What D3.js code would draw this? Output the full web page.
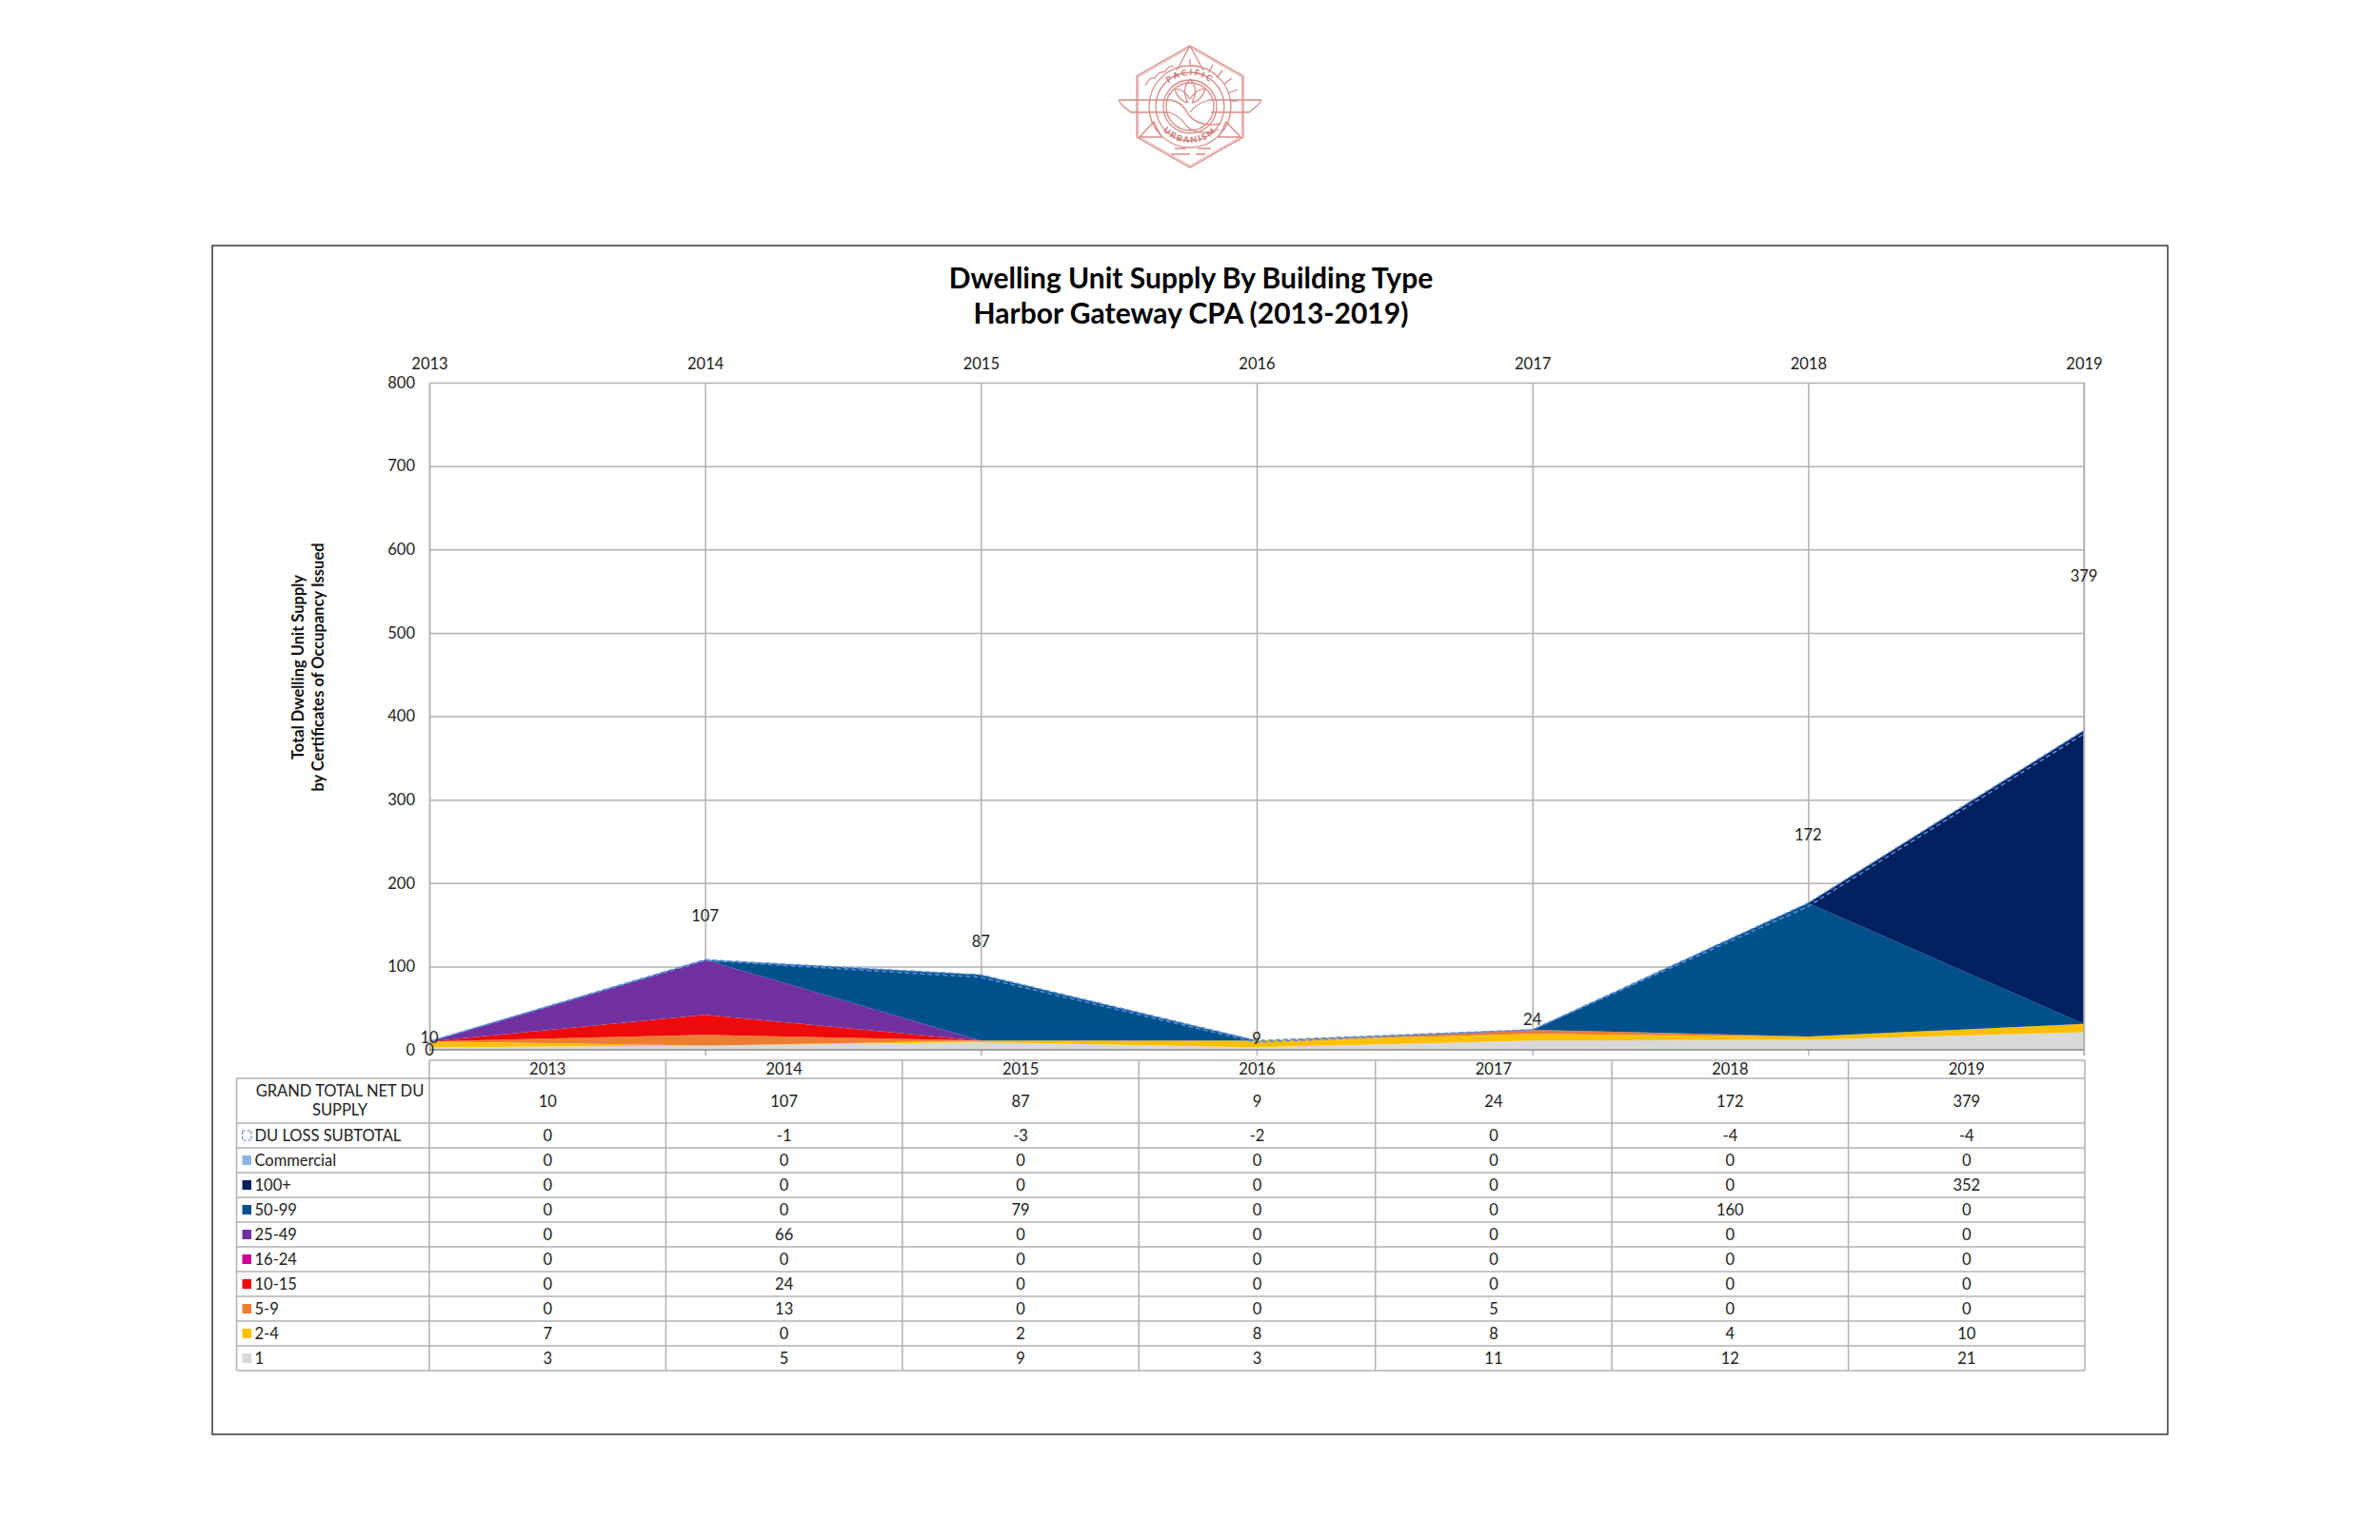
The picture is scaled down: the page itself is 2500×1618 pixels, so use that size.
<!DOCTYPE html>
<html><head><meta charset="utf-8">
<script src="https://cdn.jsdelivr.net/npm/d3@7/dist/d3.min.js"></script>
<style>html,body{margin:0;padding:0;background:#fff}svg{display:block}text{font-family:Lato,"Open Sans",sans-serif;fill:#222}</style>
</head><body><svg id="c" width="2500" height="1618"></svg>
<script>
const years=[2013,2014,2015,2016,2017,2018,2019];
const grandTotal=[10,107,87,9,24,172,379];
const duLoss=[0,-1,-3,-2,0,-4,-4];
const commercial=[0,0,0,0,0,0,0];
const u100=[0,0,0,0,0,0,352];
const u50=[0,0,79,0,0,160,0];
const u25=[0,66,0,0,0,0,0];
const u16=[0,0,0,0,0,0,0];
const u10=[0,24,0,0,0,0,0];
const u5=[0,13,0,0,5,0,0];
const u2=[7,0,2,8,8,4,10];
const u1=[3,5,9,3,11,12,21];
const yTicks=[0,100,200,300,400,500,600,700,800];
const titleLines=["Dwelling Unit Supply By Building Type","Harbor Gateway CPA (2013-2019)"];
const yTitleLines=["Total Dwelling Unit Supply","by Certificates of Occupancy Issued"];
const rowNames=["DU LOSS SUBTOTAL","Commercial","100+","50-99","25-49","16-24","10-15","5-9","2-4","1"];
const rowValues=[duLoss,commercial,u100,u50,u25,u16,u10,u5,u2,u1];
const rowColors=["none","#8db4e2","#002060","#00508c","#7030a0","#cc0099","#ee0a0a","#ed7d31","#ffc000","#d9d9d9"];
const stackOrder=["1","2-4","5-9","10-15","16-24","25-49","50-99","100+","Commercial","DU LOSS SUBTOTAL"];

const svg=d3.select("#c");
const grid="#b2b2b2";
// outer frame
svg.append("rect").attr("x",223).attr("y",258).attr("width",2054).attr("height",1249).attr("fill","#fff").attr("stroke","#444").attr("stroke-width",1.6);

const L=451,R=2189,T=402,B=1103;
const x=d3.scalePoint().domain(years).range([L,R]);
const y=d3.scaleLinear().domain([0,800]).range([B,T]);

titleLines.forEach((t,i)=>svg.append("text").attr("x",1251).attr("y",303+i*37).attr("text-anchor","middle").attr("font-size",30).attr("font-weight",700).style("fill","#000").text(t));
yTitleLines.forEach((t,i)=>svg.append("text").attr("transform",`translate(${319+i*21},701) rotate(-90)`).attr("text-anchor","middle").attr("font-size",16.5).attr("font-weight",700).style("fill","#111").text(t));

// gridlines
svg.append("g").attr("transform",`translate(${L},0)`).call(d3.axisLeft(y).tickValues(yTicks.slice(1)).tickSize(-(R-L)).tickFormat("")).call(g=>{g.selectAll("line").attr("stroke",grid).attr("stroke-width",1.5);g.select(".domain").remove();});
svg.append("g").attr("transform",`translate(0,${B+6})`).call(d3.axisTop(x).tickSize(B+6-T).tickFormat("")).call(g=>{g.selectAll("line").attr("stroke",grid).attr("stroke-width",1.5);g.select(".domain").remove();});

// stacked areas
const rows=years.map((yr,i)=>{const o={year:yr};rowNames.forEach((n,k)=>o[n]=rowValues[k][i]);return o;});
const stacked=d3.stack().keys(stackOrder).offset(d3.stackOffsetNone)(rows);
const area=d3.area().x(d=>x(d.data.year)).y0(d=>y(d[0])).y1(d=>y(d[1]));
svg.append("g").selectAll("path").data(stacked.filter(s=>s.key!=="DU LOSS SUBTOTAL")).join("path")
 .attr("d",area).attr("fill",s=>rowColors[rowNames.indexOf(s.key)]);
svg.append("path").datum(stacked.find(s=>s.key==="DU LOSS SUBTOTAL")).attr("d",area).attr("fill","none").attr("stroke","#5c8fd8").attr("stroke-width",1.5).attr("stroke-dasharray","5 3");

// axes
const yAxis=svg.append("g").attr("transform",`translate(${L},0)`).call(d3.axisLeft(y).tickValues(yTicks).tickSize(0).tickPadding(15));
yAxis.select(".domain").attr("stroke",grid).attr("stroke-width",1.5);
yAxis.selectAll("text").attr("font-size",16.5).attr("font-family","Lato");
const xAxis=svg.append("g").attr("transform",`translate(0,${T})`).call(d3.axisTop(x).tickSize(0).tickPadding(14));
xAxis.select(".domain").remove();
xAxis.selectAll("text").attr("font-size",16.5).attr("font-family","Lato");
svg.append("line").attr("x1",L).attr("x2",R).attr("y1",B).attr("y2",B).attr("stroke","#888").attr("stroke-width",1.6);
svg.append("line").attr("x1",R).attr("x2",R).attr("y1",T).attr("y2",B+6).attr("stroke",grid).attr("stroke-width",1.5);

// data labels: drawn at the chart's label series height
const labelLift=1.5;
svg.append("g").selectAll("text").data(years).join("text").attr("x",d=>x(d)).attr("y",(d,i)=>y(grandTotal[i]*labelLift)+6)
 .attr("text-anchor","middle").attr("font-size",16.5).text((d,i)=>grandTotal[i]);
svg.append("text").attr("x",L).attr("y",B+6).attr("text-anchor","middle").attr("font-size",16.5).text("0");

// data table
const tL=248.5,tR=2190,tHeadTop=1114,tHeadBot=1133,tGrand=1180,rowH=26;
const cols=d3.scaleBand().domain(years).range([L,tR]);
const lines=svg.append("g").attr("stroke",grid).attr("stroke-width",1.5);
const rowY=d3.range(rowNames.length+1).map(i=>tGrand+i*rowH);
[tHeadBot,...rowY].forEach(v=>lines.append("line").attr("x1",tL).attr("x2",tR).attr("y1",v).attr("y2",v));
lines.append("line").attr("x1",L).attr("x2",tR).attr("y1",tHeadTop).attr("y2",tHeadTop);
lines.append("line").attr("x1",tL).attr("x2",tL).attr("y1",tHeadBot).attr("y2",rowY[rowY.length-1]);
[...years.map(d=>cols(d)),tR].forEach(v=>lines.append("line").attr("x1",v).attr("x2",v).attr("y1",tHeadTop).attr("y2",rowY[rowY.length-1]));
const cell=(xx,yy,t,a)=>svg.append("text").attr("x",xx).attr("y",yy).attr("text-anchor",a||"middle").attr("dy","0.35em").attr("font-size",16.5).text(t);
years.forEach((yr,i)=>{
  const cx=cols(yr)+cols.bandwidth()/2;
  cell(cx,1123.5,yr);
  cell(cx,1157,grandTotal[i]);
  rowValues.forEach((vals,k)=>cell(cx,tGrand+k*rowH+rowH/2,vals[i]));
});
cell(357,1146,"GRAND TOTAL NET DU");cell(357,1166,"SUPPLY");
rowNames.forEach((n,k)=>{
  const cy=tGrand+k*rowH+rowH/2;
  cell(267.5,cy,n,"start");
  const r=svg.append("rect").attr("x",254.5).attr("y",cy-5).attr("width",9.5).attr("height",10);
  if(rowColors[k]==="none") r.attr("fill","none").attr("stroke","#4f81d0").attr("stroke-width",1.2).attr("stroke-dasharray","3 2");
  else r.attr("fill",rowColors[k]);
});

// logo
const logo=svg.append("g").attr("transform","translate(1250,112)").attr("fill","none").attr("stroke","#d98b86").attr("stroke-width",1.3);
const hex=[[0,-64],[56,-32],[56,32],[0,64],[-56,32],[-56,-32]];
logo.append("polygon").attr("points",hex.join(" "));
logo.append("polygon").attr("points",hex.map(p=>[p[0]*.97,p[1]*.97]).join(" ")).attr("stroke-width",.7);
[43,36,28,25].forEach(r=>logo.append("circle").attr("r",r).attr("cy",0));
logo.append("path").attr("d","M-75,-7 H-20 Q-8,-5 -2,8 Q8,22 32,18 M-72,-2 L-62,6 H-22 Q-10,10 -4,20 Q8,32 30,24 M75,-7 H20 Q6,-3 0,6 M72,-2 L62,6 H22 M-75,-7 L-72,-2 M75,-7 L72,-2");
logo.append("path").attr("d","M0,-29 Q-10,-18 -2,-4 M0,-29 Q10,-18 2,-4 M-16,-18 Q-8,-20 0,-8 M16,-18 Q8,-20 0,-8 M-16,-18 Q-12,-6 -2,-4 M16,-18 Q12,-6 2,-4");
logo.append("path").attr("d","M0,-64 L-14,-38 M0,-64 L14,-38 M0,-50 V-42 M-53,32 L-38,16 L-30,32 Z M53,32 L38,16 L30,32 Z M-47,-22 q5,-10 10,-8 q5,-8 10,-6 q5,-8 10,-6 M24,-44 L20,-36 M34,-38 L28,-30 M44,-30 L36,-24 M50,-18 L40,-14 M50,-6 L42,-6 M-16,44 H-4 M8,44 H22 M-20,50 H0 M6,50 H16");
const defs=svg.append("defs");
defs.append("path").attr("id","arcTop").attr("d","M-33,0 A33,33 0 0 1 33,0");
defs.append("path").attr("id","arcBot").attr("d","M-38,0 A38,38 0 0 0 38,0");
const lt=svg.append("g").attr("transform","translate(1250,112)");
lt.append("text").attr("font-size",9).attr("font-weight",700).attr("letter-spacing",2.2).attr("text-anchor","middle").style("fill","#c9726d").append("textPath").attr("href","#arcTop").attr("startOffset","50%").text("PACIFIC");
lt.append("text").attr("font-size",9).attr("font-weight",700).attr("letter-spacing",2).attr("text-anchor","middle").style("fill","#c9726d").append("textPath").attr("href","#arcBot").attr("startOffset","50%").text("URBANISM");
</script></body></html>
